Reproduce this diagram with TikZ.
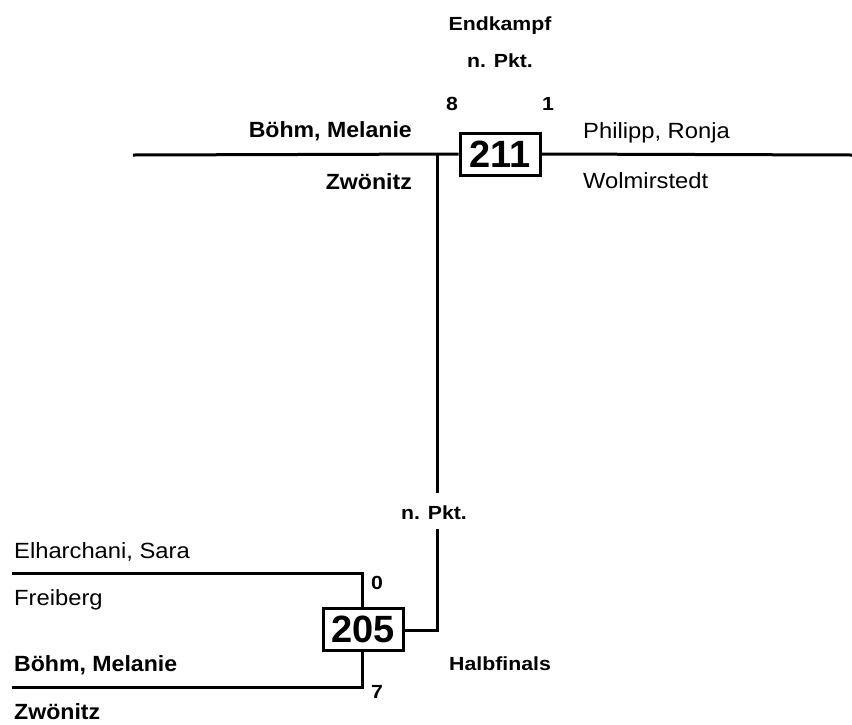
\documentclass[tikz,border=0pt]{standalone}
\usepackage{fontspec}
\setmainfont{Liberation Sans}
\newfontfamily\namefont{Liberation Sans}[FakeStretch=1.08]
\newfontfamily\winfont{Liberation Sans}[FakeStretch=1.05]
\newfontfamily\labfont{Liberation Sans}[FakeStretch=1.12]

\begin{document}
\begin{tikzpicture}[x=1pt,y=-1pt,
	bline/.style={line width=3pt},
	nrbox/.style={draw,line width=3pt,fill=white,minimum width=80pt,minimum height=42pt,inner sep=0pt,font=\fontsize{38}{40}\selectfont\bfseries},
	player/.style={inner sep=0pt,font=\namefont\fontsize{22}{26}\selectfont},
	winner/.style={inner sep=0pt,font=\winfont\fontsize{22}{26}\selectfont\bfseries},
	lab/.style={inner sep=0pt,font=\labfont\fontsize{19}{22}\selectfont\bfseries}]
	\useasboundingbox (0,0) rectangle (852,724);
	\node [nrbox] (m211) at (500,154) {211};
	\node [nrbox] (m205) at (363,629) {205};
	\coordinate (t1) at (133,155);
	\coordinate (t2) at (852,155);
	\coordinate (j1) at (437,155);
	\coordinate (j2) at (437,493);
	\coordinate (j3) at (437,529);
	\coordinate (j4) at (437,630);
	\coordinate (a1) at (12,573);
	\coordinate (a2) at (362,573);
	\coordinate (b1) at (12,687);
	\coordinate (b2) at (362,687);
	%
	\node [lab,anchor=base] (final) at (500,30) {Endkampf};
	\node [lab,anchor=base] (pkt1) at (500,67) {n. Pkt.};
	\node [lab,anchor=base] (s8) at (452,110) {8};
	\node [lab,anchor=base] (s1) at (548,110) {1};
	\node [winner,anchor=base east] (p1) at (412,137) {Böhm, Melanie};
	\node [winner,anchor=base east] (c1) at (412,189) {Zwönitz};
	\node [player,anchor=base west] (p2) at (583,138) {Philipp, Ronja};
	\node [player,anchor=base west] (c2) at (583,188) {Wolmirstedt};
	\node [lab,anchor=base] (pkt2) at (434,519) {n. Pkt.};
	\node [player,anchor=base west] (p3) at (14,558) {Elharchani, Sara};
	\node [player,anchor=base west] (c3) at (14,605) {Freiberg};
	\node [winner,anchor=base west] (p4) at (14,671) {Böhm, Melanie};
	\node [winner,anchor=base west] (c4) at (14,719) {Zwönitz};
	\node [lab,anchor=base] (s0) at (377,589) {0};
	\node [lab,anchor=base] (s7) at (377,698) {7};
	\node [lab,anchor=base] (round) at (500,670) {Halbfinals};
	%
	\draw [bline] (t1) -- (m211.west);
	\draw [bline] (m211.east) -- (t2);
	\draw [bline] (j1) -- (j2);
	\draw [bline] (j3) -- (j4) -- (m205.east |- j4);
	\draw [bline] (a1) -- (a2) -- (a2 |- m205.north);
	\draw [bline] (b1) -- (b2) -- (b2 |- m205.south);
\end{tikzpicture}
\end{document}
